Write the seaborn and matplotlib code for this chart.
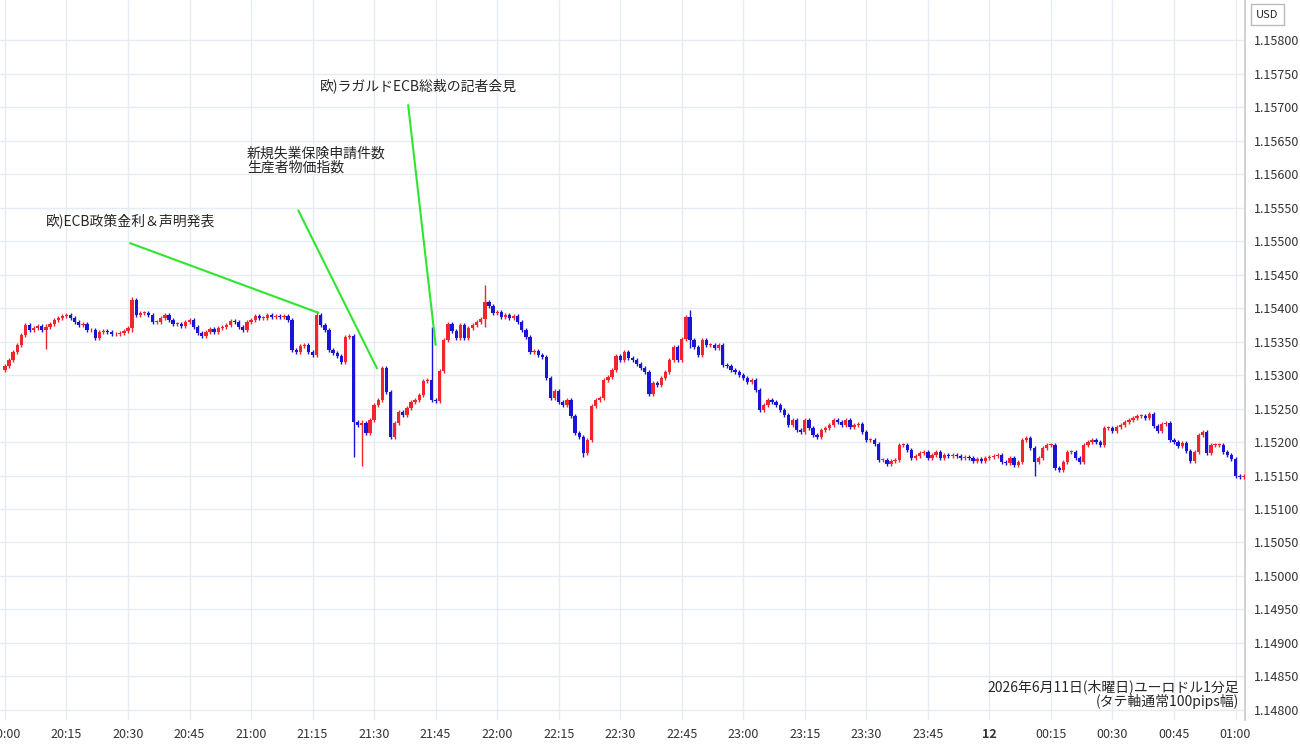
import numpy as np
import pandas as pd
import matplotlib
matplotlib.use("Agg")
import matplotlib.pyplot as plt
import seaborn as sns

# closes in 1e-5 above 1.15000, one per minute starting 20:00
closes = [313,322,334,345,360,375,367,370,373,367,372,376,382,385,388,390,385,379,375,376,
          367,367,355,364,366,364,361,361,363,366,370,412,390,393,393,390,379,379,385,390,
          382,376,376,373,379,382,372,363,358,364,369,364,370,372,
          375,381,379,372,367,379,382,388,385,385,390,387,388,387,388,382,337,334,
          343,345,334,330,390,375,367,337,333,328,319,357,358,230,225,228,213,233,255,263,
          310,275,207,228,245,240,251,260,263,270,291,293,263,261,306,352,
          376,366,355,375,355,370,375,379,384,409,403,393,394,387,390,385,388,379,
          367,357,334,336,330,327,296,266,276,260,255,263,239,213,207,184,203,254,263,
          266,293,297,307,328,322,334,325,322,
          316,310,304,272,288,285,296,304,322,342,322,354,387,352,342,330,352,345,345,340,
          345,315,313,307,304,300,296,290,293,278,248,255,263,260,255,248,240,225,233,218,
          215,233,221,210,207,218,221,225,233,230,225,233,222,
          225,227,215,203,203,197,173,173,167,172,173,196,196,188,176,179,184,185,176,181,
          185,176,181,179,181,179,176,178,176,172,175,172,176,178,179,181,170,169,176,166,
          170,203,206,191,170,176,191,196,196,161,158,170,185,185,176,170,
          196,200,203,200,196,221,221,217,222,225,230,233,236,239,239,236,242,224,217,227,
          228,203,200,194,199,187,172,185,211,215,184,196,196,196,185,181,175,149,148,149,
          148,148,149,146,142,145]
first_open = 308
# notable wick extremes: minute index -> (high, low)
wick_extremes = {10: (376, 339), 31: (416, 365), 76: (395, 330), 85: (240, 178),
                 87: (233, 164), 104: (372, 300), 117: (434, 372), 141: (210, 178),
                 167: (397, 340), 251: (175, 150)}
tick_labels = ["20:00","20:15","20:30","20:45","21:00","21:15","21:30","21:45","22:00",
               "22:15","22:30","22:45","23:00","23:15","23:30","23:45","12","00:15",
               "00:30","00:45","01:00"]
annotations = [("欧)ECB政策金利＆声明発表", (10, 519), (30.5, 497), (76.4, 393)),
               ("新規失業保険申請件数\n生産者物価指数", (59, 600), (71.5, 546), (90.7, 310)),
               ("欧)ラガルドECB総裁の記者会見", (76.8, 721), (98.3, 703), (105, 345))]

sns.set_theme(style="white")
plt.rcParams['font.family'] = ['Noto Sans CJK JP', 'DejaVu Sans']

n = len(closes)
opens = [first_open] + closes[:-1]
df = pd.DataFrame({"m": np.arange(n), "o": opens, "c": closes})
df["hi"] = df[["o", "c"]].max(axis=1) + 3
df["lo"] = df[["o", "c"]].min(axis=1) - 3
for k, (h, l) in wick_extremes.items():
    if k < n:
        df.loc[k, "hi"] = max(df.loc[k, "hi"], h)
        df.loc[k, "lo"] = min(df.loc[k, "lo"], l)
base = 1.15
scale = 1e-5
df["up"] = df["c"] >= df["o"]
RED, BLUE = "#f0262e", "#1a14d6"

fig = plt.figure(figsize=(13, 7.45), dpi=100)
ax = fig.add_axes([0.0, 0.0336, 0.958, 0.9664])
for col, sub in ((RED, df[df.up]), (BLUE, df[~df.up])):
    ax.vlines(sub.m, base + sub.lo * scale, base + sub.hi * scale, color=col, lw=1, zorder=3)
    bottoms = base + np.minimum(sub.o, sub.c) * scale
    heights = np.maximum(np.abs(sub.c - sub.o), 1) * scale
    ax.bar(sub.m, heights, bottom=bottoms, width=0.8, color=col, zorder=4, linewidth=0)

ax.set_xlim(-1.2, 302.4)
ax.set_ylim(1.14785, 1.15860)
ax.yaxis.tick_right()
yt = np.arange(1.148, 1.15801, 0.0005)
ax.set_yticks(yt)
ax.set_yticklabels([f"{v:.5f}" for v in yt], fontsize=9, color="#333333")
ax.set_xticks(np.arange(0, 301, 15))
ax.set_xticklabels(tick_labels, fontsize=9, color="#333333")
for lbl in ax.get_xticklabels():
    if lbl.get_text() == "12":
        lbl.set_fontweight("bold")
ax.tick_params(length=0, pad=6)
ax.grid(True, color="#e6ecf2", lw=1)
for s in ["top", "left", "bottom"]:
    ax.spines[s].set_visible(False)
ax.spines["right"].set_color("#cccccc")

for text, tpos, lstart, lend in annotations:
    ax.text(tpos[0], base + tpos[1] * scale, text, fontsize=10, va="bottom", ha="left",
            linespacing=1.0, zorder=6)
    ax.plot([lstart[0], lend[0]], [base + lstart[1] * scale, base + lend[1] * scale],
            color="#2ee62e", lw=1.5, zorder=5)

fig.text(0.953, 0.048, "2026年6月11日(木曜日)ユーロドル1分足\n(タテ軸通常100pips幅)",
         ha="right", va="bottom", fontsize=10, linespacing=1.0)
fig.text(0.975, 0.98, "USD", ha="center", va="center", fontsize=8,
         bbox=dict(boxstyle="square,pad=0.5", fc="white", ec="#bbbbbb"))
fig.savefig("out.png", dpi=100)
